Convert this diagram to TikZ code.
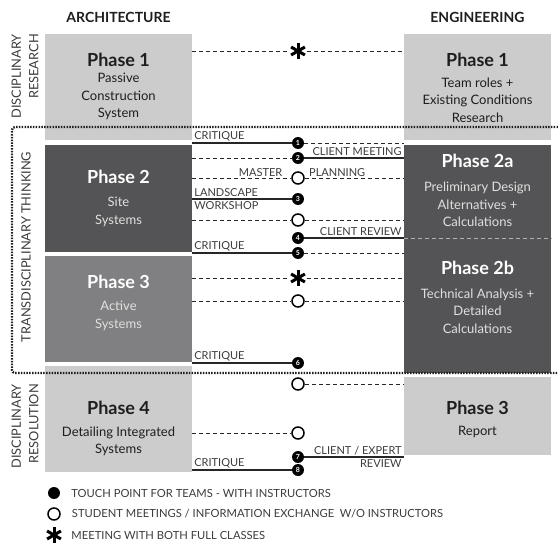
\documentclass[tikz,border=0pt]{standalone}
\usepackage{fontspec}
\setmainfont{Lato}
\usetikzlibrary{positioning,calc}

\definecolor{boxlight}{RGB}{204,204,204}
\definecolor{boxmid}{RGB}{128,128,130}
\definecolor{boxdark}{RGB}{84,84,86}
\definecolor{inkdark}{RGB}{30,30,30}
\definecolor{inklabel}{RGB}{60,60,60}

\tikzset{
  lightbox/.style={rectangle, fill=boxlight, minimum width=147pt, inner sep=0pt},
  midbox/.style={lightbox, fill=boxmid},
  darkbox/.style={lightbox, fill=boxdark},
  headlabel/.style={font=\fontsize{14}{16}\selectfont\bfseries, text=inkdark, inner sep=0pt},
  phasetitle/.style={font=\fontsize{18}{20}\selectfont\bfseries, text=inkdark, inner sep=0pt},
  phasetext/.style={font=\fontsize{13}{17.5}\selectfont, text=inkdark, align=center, inner sep=0pt},
  ontitle/.style={phasetitle, text=white},
  ontext/.style={phasetext, text=white!88!black},
  sidelabel/.style={font=\fontsize{12.8}{17.5}\selectfont, text=inklabel, inner sep=1pt},
  linklabel/.style={font=\fontsize{11}{12}\selectfont, text=inklabel, inner sep=1.5pt},
  legendlabel/.style={font=\fontsize{11.2}{13}\selectfont, text=inklabel, inner sep=0pt},
  solidlink/.style={line width=1.4pt, draw=black!85},
  dashlink/.style={line width=0.9pt, draw=black!85, dash pattern=on 4pt off 3pt},
  boxdash/.style={line width=0.9pt, draw=white!70!black, dash pattern=on 4pt off 3pt},
  bracketline/.style={line width=2.3pt, draw=inkdark, dash pattern=on 1.5pt off 1.3pt, rounded corners=3pt},
  touch/.style={circle, fill=black, minimum size=12pt, inner sep=0pt, text=white,
    font=\fontsize{7}{7}\selectfont\bfseries},
  meet/.style={circle, draw=black, line width=1.5pt, fill=white, minimum size=12pt, inner sep=0pt},
  allmeet/.style={circle, minimum size=17pt, inner sep=0pt, path picture={
    \foreach \a in {90,30,-30}
      \draw[line width=3pt] ($(path picture bounding box.center)+(\a:8pt)$)
        -- ($(path picture bounding box.center)+(\a+180:8pt)$);}},
}

\begin{document}
\begin{tikzpicture}[x=1pt, y=-1pt]
\useasboundingbox (0,0) rectangle (558,546);

% column heads
\node[headlabel] (harch) at (118.5,17) {ARCHITECTURE};
\node[headlabel] (heng) at (477.5,17) {ENGINEERING};

% phase boxes
\node[lightbox, minimum height=106pt] (a1) at (118.5,87) {};
\node[darkbox, minimum height=107pt] (a2) at (118.5,198.5) {};
\node[midbox, minimum height=106pt] (a3) at (118.5,309) {};
\node[lightbox, minimum height=106pt] (a4) at (118.5,419) {};
\node[lightbox, minimum height=106pt] (e1) at (477.5,87) {};
\node[darkbox, minimum height=228pt] (e2) at (477.5,259) {};
\node[lightbox, minimum height=78pt] (e3) at (477.5,416) {};

% phase texts
\node[phasetitle] (a1t) at (118.5,60) {Phase 1};
\node[phasetext] (a1s) at (118.5,96.5) {Passive\\Construction\\System};
\node[ontitle] (a2t) at (118.5,177) {Phase 2};
\node[ontext] (a2s) at (118.5,212) {Site\\Systems};
\node[ontitle] (a3t) at (118.5,282) {Phase 3};
\node[ontext] (a3s) at (118.5,316) {Active\\Systems};
\node[phasetitle] (a4t) at (118.5,408) {Phase 4};
\node[phasetext] (a4s) at (118.5,441.5) {Detailing Integrated\\Systems};
\node[phasetitle] (e1t) at (477.5,60) {Phase 1};
\node[phasetext] (e1s) at (477.5,100) {Team roles +\\Existing Conditions\\Research};
\node[ontitle] (e2at) at (477.5,161) {Phase 2a};
\node[ontext] (e2as) at (477.5,204.5) {Preliminary Design\\Alternatives +\\Calculations};
\node[ontitle] (e2bt) at (477.5,268) {Phase 2b};
\node[ontext] (e2bs) at (477.5,311) {Technical Analysis +\\Detailed\\Calculations};
\node[phasetitle] (e3t) at (477.5,408) {Phase 3};
\node[phasetext] (e3s) at (477.5,432) {Report};

% side labels
\node[sidelabel, rotate=90, anchor=north east, align=right] (sres) at (10.5,33) {DISCIPLINARY\\RESEARCH};
\node[sidelabel, rotate=90] (strans) at (26,247) {TRANSDISCIPLINARY THINKING};
\node[sidelabel, rotate=90, anchor=north east, align=right] (sresol) at (10.5,383) {DISCIPLINARY\\RESOLUTION};

% transdisciplinary bracket
\draw[bracketline] (558,127) -- (12,127) -- (12,373) -- (558,373);

% meeting points
\begin{scope}[every node/.style={}]
  \node[allmeet] (all1) at (298,51) {};
  \node[touch] (t1) at (298,143) {1};
  \node[touch] (t2) at (298,158) {2};
  \node[meet] (s1) at (298,178) {};
  \node[touch] (t3) at (298,199) {3};
  \node[meet] (s2) at (298,220) {};
  \node[touch] (t4) at (298,238) {4};
  \node[touch] (t5) at (298,253) {5};
  \node[allmeet] (all2) at (298,278) {};
  \node[meet] (s3) at (298,301) {};
  \node[touch] (t6) at (298,363) {6};
  \node[meet] (s4) at (298,384) {};
  \node[meet] (s5) at (298,433) {};
  \node[touch] (t7) at (298,457) {7};
  \node[touch] (t8) at (298,470) {8};
\end{scope}

% links
\draw[dashlink] (a1.east |- all1) -- (all1);
\draw[dashlink] (all1) -- (e1.west |- all1);
\draw[solidlink] (a1.east |- t1) node[linklabel, above right] {CRITIQUE} -- (t1);
\draw[dashlink] (t1) -- (e1.west |- t1);
\draw[dashlink] (a2.east |- t2) -- (t2);
\draw[solidlink] (t2) -- (e2.west |- t2) node[linklabel, above left] {CLIENT MEETING};
\draw[dashlink] (a2.east |- s1) -- (s1);
\draw[dashlink] (s1) -- (e2.west |- s1);
\node[linklabel, above left=0pt and 14pt of s1.center] (lmaster) {MASTER};
\node[linklabel, above right=0pt and 9.5pt of s1.center] (lplan) {PLANNING};
\draw[solidlink] (a2.east |- t3) node[linklabel, above right] {LANDSCAPE}
  node[linklabel, below right] {WORKSHOP} -- (t3);
\draw[dashlink] (a2.east |- s2) -- (s2);
\draw[dashlink] (s2) -- (e2.west |- s2);
\draw[solidlink] (t4) -- (e2.west |- t4) node[linklabel, above left] {CLIENT REVIEW};
\draw[boxdash] (e2.west |- t4) -- (e2.east |- t4);
\draw[solidlink] (a2.east |- t5) node[linklabel, above right] {CRITIQUE} -- (t5);
\draw[dashlink] (t5) -- (e2.west |- t5);
\draw[dashlink] (a3.east |- all2) -- (all2);
\draw[dashlink] (all2) -- (e2.west |- all2);
\draw[dashlink] (a3.east |- s3) -- (s3);
\draw[dashlink] (s3) -- (e2.west |- s3);
\draw[solidlink] (a3.east |- t6) node[linklabel, above right] {CRITIQUE} -- (t6);
\draw[dashlink] (s4) -- (e3.west |- s4);
\draw[dashlink] (a4.east |- s5) -- (s5);
\draw[solidlink] (t7) -- (e3.west |- t7) node[linklabel, above left] {CLIENT / EXPERT}
  node[linklabel, below left] {REVIEW};
\draw[solidlink] (a4.east |- t8) node[linklabel, above right] {CRITIQUE} -- (t8);

% legend
\node[touch] (k1) at (54,493) {};
\node[legendlabel, right=11pt of k1] (k1l) {TOUCH POINT FOR TEAMS - WITH INSTRUCTORS};
\node[meet] (k2) at (54,514) {};
\node[legendlabel, right=11pt of k2] (k2l) {STUDENT MEETINGS / INFORMATION EXCHANGE\ \ W/O INSTRUCTORS};
\node[allmeet] (k3) at (54,535) {};
\node[legendlabel, right=8.5pt of k3] (k3l) {MEETING WITH BOTH FULL CLASSES};
\end{tikzpicture}
\end{document}
